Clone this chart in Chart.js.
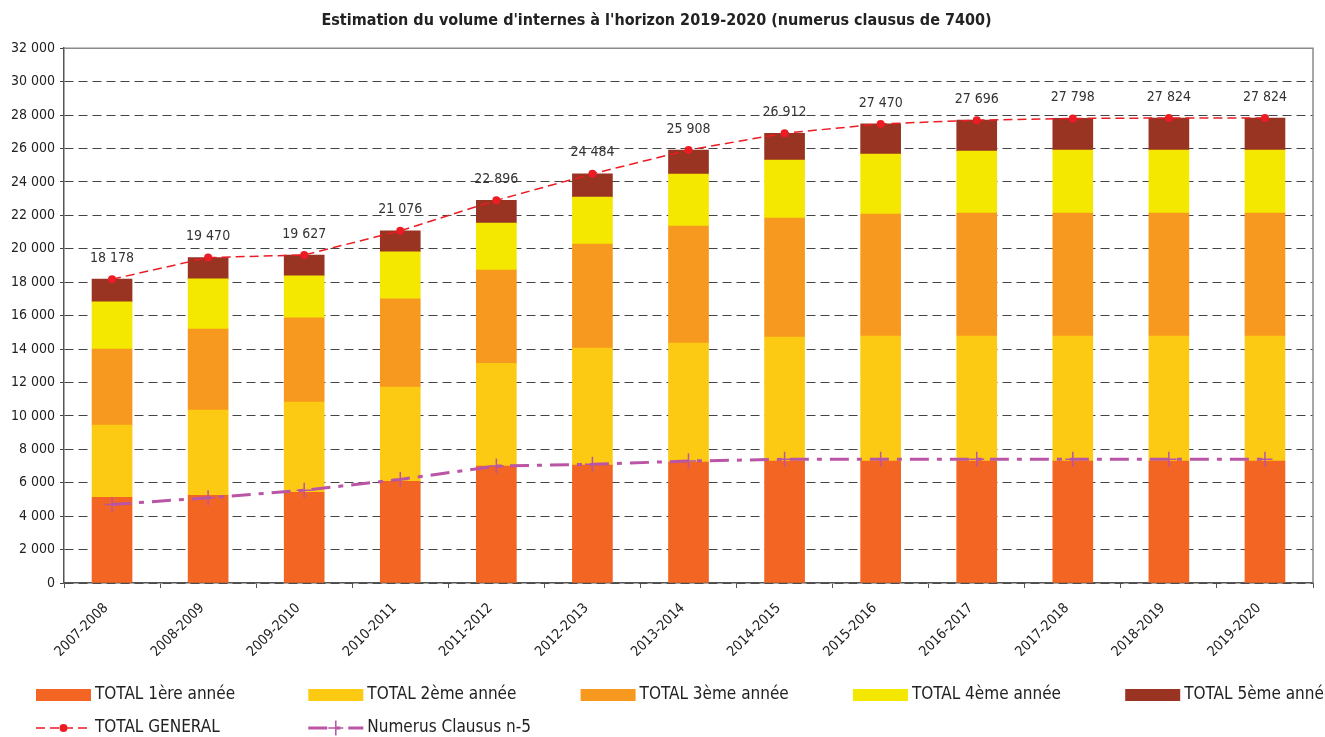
<!DOCTYPE html>
<html lang="fr">
<head>
<meta charset="utf-8">
<title>Estimation du volume d'internes</title>
<script src="https://cdn.jsdelivr.net/npm/chart.js@4.4.0/dist/chart.umd.min.js"></script>
<style>
  html, body { margin: 0; padding: 0; background: #fff; }
  #wrap { width: 1325px; height: 737px; position: relative; }
</style>
</head>
<body>
<div id="wrap"><canvas id="internesChart"></canvas></div>
<script>
const categories = ['2007-2008', '2008-2009', '2009-2010', '2010-2011', '2011-2012', '2012-2013', '2013-2014',
    '2014-2015', '2015-2016', '2016-2017', '2017-2018', '2018-2019', '2019-2020'];

const annee1 = [5130, 5250, 5430, 6090, 6990, 7050, 7230, 7290, 7290, 7290, 7290, 7290, 7290];
const annee2 = [4320, 5100, 5400, 5640, 6160, 7000, 7120, 7420, 7480, 7480, 7480, 7480, 7480];
const annee3 = [4550, 4850, 5030, 5270, 5570, 6230, 7010, 7130, 7310, 7370, 7370, 7370, 7370];
const annee4 = [2820, 3000, 2520, 2820, 2820, 2810, 3110, 3470, 3590, 3710, 3770, 3770, 3770];
const annee5 = [1358, 1270, 1247, 1256, 1356, 1394, 1438, 1602, 1800, 1846, 1888, 1914, 1914];
const totalGeneral = [18178, 19470, 19627, 21076, 22896, 24484, 25908, 26912, 27470, 27696, 27798, 27824, 27824];
const numerusClausus = [4700, 5100, 5550, 6200, 7000, 7100, 7300, 7400, 7400, 7400, 7400, 7400, 7400];

const yMax = 32000;
const yStep = 2000;

const FONT = "'DejaVu Sans Condensed', 'DejaVu Sans', sans-serif";
Chart.defaults.font.family = FONT;
Chart.defaults.font.size = 14;
Chart.defaults.color = '#222';

function fmt(n) {
    return n.toString().replace(/\B(?=(\d{3})+(?!\d))/g, ' ');
}

// valeurs au-dessus de la courbe TOTAL GENERAL
const totalLabels = {
    id: 'totalLabels',
    afterDatasetsDraw(chart) {
        const ctx = chart.ctx;
        const meta = chart.getDatasetMeta(5);
        ctx.save();
        ctx.font = '14px ' + FONT;
        ctx.fillStyle = '#333';
        ctx.textAlign = 'center';
        ctx.textBaseline = 'middle';
        meta.data.forEach((pt, i) => {
            ctx.fillText(fmt(totalGeneral[i]), pt.x, pt.y - 21);
        });
        ctx.restore();
    }
};

// cadre haut / droite de la zone de tracé
const plotBorder = {
    id: 'plotBorder',
    beforeDatasetsDraw(chart) {
        const ctx = chart.ctx;
        const a = chart.chartArea;
        ctx.save();
        ctx.strokeStyle = '#8a8a8a';
        ctx.lineWidth = 1.5;
        ctx.beginPath();
        ctx.moveTo(a.left, a.top);
        ctx.lineTo(a.right, a.top);
        ctx.lineTo(a.right, a.bottom);
        ctx.stroke();
        ctx.restore();
    }
};

// légende façon Excel, en colonnes fixes
const excelLegend = {
    id: 'excelLegend',
    afterDraw(chart) {
        const ctx = chart.ctx;
        const rows = [[0, 1, 2, 3, 4], [5, 6]];
        const rowY = [695, 728];
        const x0 = 36, colW = 272.3, sampleW = 55;
        ctx.save();
        ctx.font = '17px ' + FONT;
        ctx.textBaseline = 'middle';
        ctx.textAlign = 'left';
        rows.forEach((row, r) => {
            row.forEach((di, c) => {
                const ds = chart.data.datasets[di];
                const x = x0 + c * colW;
                const y = rowY[r];
                if (ds.type === 'line') {
                    ctx.strokeStyle = ds.borderColor;
                    ctx.lineWidth = ds.borderWidth;
                    ctx.setLineDash(ds.borderDash);
                    ctx.beginPath();
                    ctx.moveTo(x, y);
                    ctx.lineTo(x + sampleW, y);
                    ctx.stroke();
                    ctx.setLineDash([]);
                    const cx = x + sampleW / 2;
                    if (ds.pointStyle === 'circle') {
                        ctx.fillStyle = ds.pointBackgroundColor;
                        ctx.beginPath();
                        ctx.arc(cx, y, ds.pointRadius, 0, Math.PI * 2);
                        ctx.fill();
                    } else {
                        ctx.lineWidth = ds.pointBorderWidth;
                        ctx.strokeStyle = ds.pointBorderColor;
                        ctx.beginPath();
                        ctx.moveTo(cx - ds.pointRadius, y);
                        ctx.lineTo(cx + ds.pointRadius, y);
                        ctx.moveTo(cx, y - ds.pointRadius);
                        ctx.lineTo(cx, y + ds.pointRadius);
                        ctx.stroke();
                    }
                } else {
                    ctx.fillStyle = ds.backgroundColor;
                    ctx.fillRect(x, y - 6, sampleW, 12);
                }
                ctx.fillStyle = '#222';
                ctx.fillText(ds.label, x + sampleW + 4, y);
            });
        });
        ctx.restore();
    }
};

function barSet(label, data, color) {
    return {
        type: 'bar',
        label: label,
        data: data,
        backgroundColor: color,
        borderWidth: 0,
        barThickness: 40,
        stack: 'annees',
        order: 2
    };
}

const ctx = document.getElementById('internesChart').getContext('2d');
const internesChart = new Chart(ctx, {
    data: {
        labels: categories,
        datasets: [
            barSet('TOTAL 1ère année', annee1, '#F26522'),
            barSet('TOTAL 2ème année', annee2, '#FDCA13'),
            barSet('TOTAL 3ème année', annee3, '#F7991F'),
            barSet('TOTAL 4ème année', annee4, '#F5E800'),
            barSet('TOTAL 5ème année', annee5, '#993322'),
            {
                type: 'line',
                label: 'TOTAL GENERAL',
                data: totalGeneral,
                borderColor: '#EC1C24',
                borderWidth: 1.5,
                borderDash: [9, 5],
                pointStyle: 'circle',
                pointRadius: 4,
                pointBackgroundColor: '#EC1C24',
                pointBorderColor: '#EC1C24',
                pointBorderWidth: 0,
                tension: 0,
                stack: 'total',
                order: 0
            },
            {
                type: 'line',
                label: 'Numerus Clausus n-5',
                data: numerusClausus,
                borderColor: '#B955A4',
                borderWidth: 3,
                borderDash: [19, 8, 5, 8],
                pointStyle: 'cross',
                pointRadius: 7.5,
                pointBorderColor: '#B955A4',
                pointBorderWidth: 1.5,
                tension: 0,
                stack: 'nc',
                order: 1
            }
        ]
    },
    options: {
        responsive: true,
        maintainAspectRatio: false,
        animation: false,
        layout: { padding: { left: 0, right: 12, top: 0, bottom: 0 } },
        plugins: {
            legend: { display: false },
            tooltip: { enabled: false },
            title: {
                display: true,
                text: "Estimation du volume d'internes à l'horizon 2019-2020 (numerus clausus de 7400)",
                font: { size: 16, weight: 'bold', family: FONT },
                color: '#222',
                padding: { top: 11, bottom: 18 }
            }
        },
        scales: {
            x: {
                stacked: true,
                offset: true,
                afterFit(scale) { scale.height = 154; },
                grid: { display: true, drawOnChartArea: false, drawTicks: true, tickLength: 5, color: '#555', offset: true },
                border: { display: true, color: '#555', width: 1.5 },
                ticks: { minRotation: 45, maxRotation: 45, autoSkip: false, padding: 12, labelOffset: -6, color: '#222', font: { size: 14 } }
            },
            y: {
                stacked: true,
                min: 0,
                max: yMax,
                afterFit(scale) { scale.width = 64; },
                grid: { color: '#444', lineWidth: 1, tickLength: 4 },
                border: { display: true, color: '#555', width: 1.5, dash: [9, 5] },
                ticks: { stepSize: yStep, padding: 5, color: '#222', font: { size: 14 }, callback: (v) => fmt(v) }
            }
        }
    },
    plugins: [plotBorder, totalLabels, excelLegend]
});
</script>
</body>
</html>
